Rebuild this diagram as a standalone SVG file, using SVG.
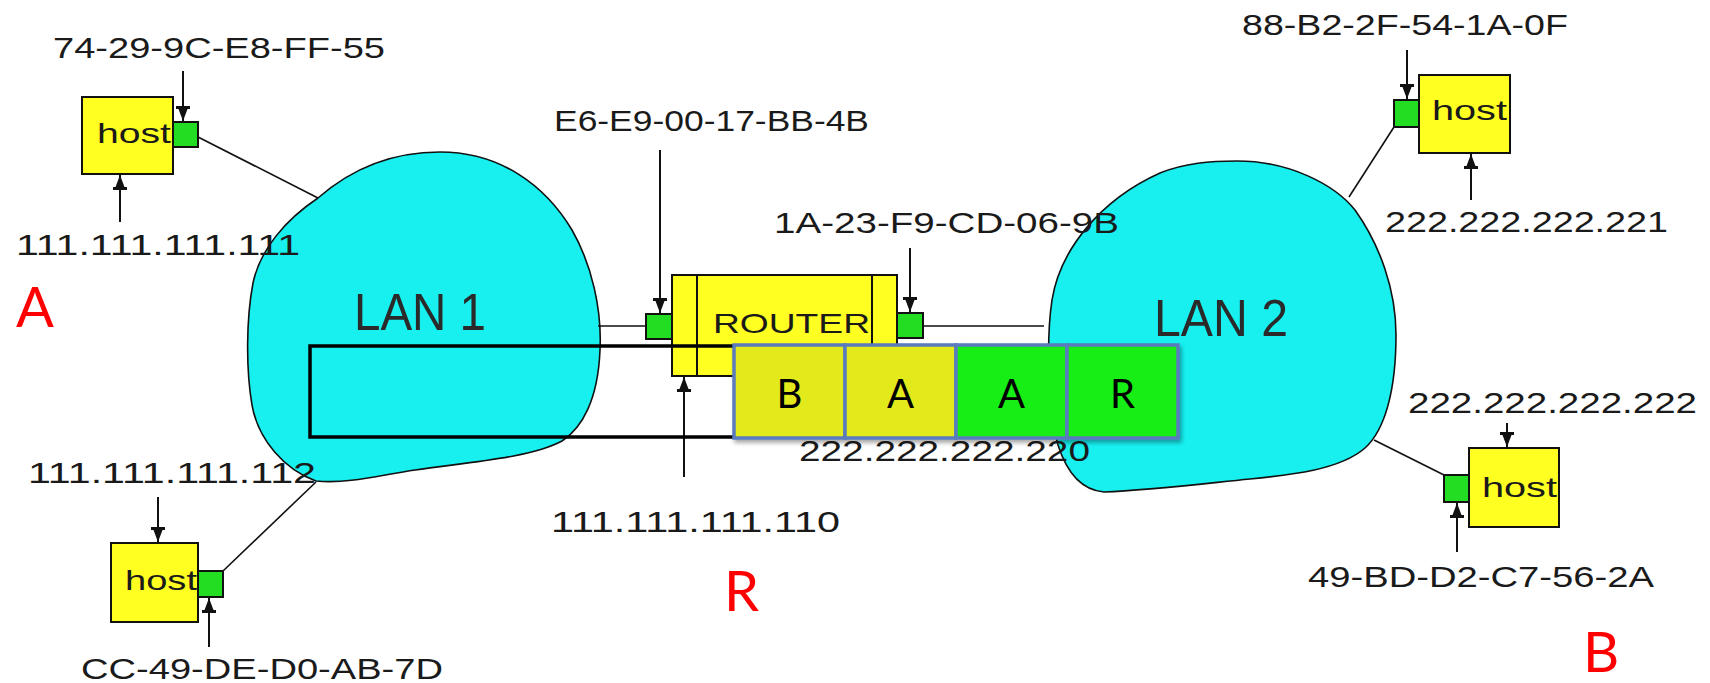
<svg xmlns="http://www.w3.org/2000/svg" width="1710" height="683" viewBox="0 0 1710 683">
<style>
.lbl{font-family:"Liberation Sans",Arial,sans-serif;font-size:30px;fill:#1a1a1a}
.hosttxt{font-family:"Liberation Sans",Arial,sans-serif;font-size:28px;fill:#1a1a1a}
.lan{font-family:"Liberation Sans",Arial,sans-serif;font-size:51px;fill:#2a2a2a}
.red{font-family:Lato,"Liberation Sans",sans-serif;font-size:56px;fill:#ff0000}
.ftxt{font-family:Lato,"Liberation Sans",sans-serif;font-size:40px;fill:#000}
.box{fill:#ffff22;stroke:#111;stroke-width:2}
.port{fill:#22dd22;stroke:#111;stroke-width:2}
.cloud{fill:#18f0f0;stroke:#111;stroke-width:1.6}
.link{stroke:#111;stroke-width:1.6;fill:none}
.arr{stroke:#111;stroke-width:2;fill:none;marker-end:url(#ah)}
.fy{fill:#e3ea1b;stroke:#5a7bbe;stroke-width:3.5}
.fg{fill:#14ee14;stroke:#5a7bbe;stroke-width:3.5}
</style>
<defs>
<marker id="ah" markerUnits="userSpaceOnUse" viewBox="0 0 16 14" markerWidth="16" markerHeight="14" refX="15" refY="7" orient="auto">
<path d="M0,0 H3 V2.5 L15,7 L3,11.5 V14 H0 Z" fill="#111"/>
</marker>
<filter id="sh" x="-10%" y="-10%" width="130%" height="130%">
<feDropShadow dx="2" dy="3" stdDeviation="2" flood-color="#000" flood-opacity="0.35"/>
</filter>
</defs>
<rect width="1710" height="683" fill="#fff"/>

<g id="lan1">
<path class="cloud" d="M 318,198 C 350,170 390,152 440,152 C 500,152 545,185 572,230 C 592,265 602,310 600,350 C 598,400 582,428 562,441 C 530,458 470,462 415,470 C 380,475 350,484 316,481 C 285,470 258,440 252,405 C 246,370 246,320 253,283 C 260,250 285,220 318,198 Z"/>
<text class="lan" x="354" y="330" textLength="132" lengthAdjust="spacingAndGlyphs">LAN 1</text>
</g>
<g id="lan2">
<path class="cloud" d="M 1237,161 C 1290,161 1335,185 1355,210 C 1380,245 1396,290 1396,335 C 1396,390 1385,430 1365,448 C 1340,470 1290,475 1250,479 C 1200,484 1150,490 1104,492 C 1080,490 1066,470 1058,445 C 1048,410 1046,340 1052,300 C 1060,250 1100,200 1160,173 C 1185,163 1210,161 1237,161 Z"/>
<text class="lan" x="1154" y="336" textLength="134" lengthAdjust="spacingAndGlyphs">LAN 2</text>
</g>

<g id="connectors">
<line class="link" x1="198" y1="137" x2="318" y2="198"/>
<line class="link" x1="223" y1="571" x2="316" y2="482"/>
<line class="link" x1="598" y1="326" x2="646" y2="326"/>
<line class="link" x1="923" y1="326" x2="1044" y2="326"/>
<line class="link" x1="1394" y1="127" x2="1349" y2="197"/>
<line class="link" x1="1444" y1="475" x2="1374" y2="440"/>
<line class="arr" x1="183" y1="71" x2="183" y2="121"/>
<line class="arr" x1="120" y1="222" x2="120" y2="175"/>
<line class="arr" x1="158" y1="497" x2="158" y2="542"/>
<line class="arr" x1="209" y1="647" x2="209" y2="598"/>
<line class="arr" x1="660" y1="150" x2="660" y2="313"/>
<line class="arr" x1="910" y1="248" x2="910" y2="312"/>
<line class="arr" x1="684" y1="477" x2="684" y2="377"/>
<line class="arr" x1="1407" y1="50" x2="1407" y2="99"/>
<line class="arr" x1="1471" y1="200" x2="1471" y2="154"/>
<line class="arr" x1="1507" y1="423" x2="1507" y2="447"/>
<line class="arr" x1="1457" y1="552" x2="1457" y2="503"/>
</g>

<g id="hostA">
<rect class="box" x="82" y="97" width="91" height="77"/>
<text class="hosttxt" x="97" y="143" textLength="74" lengthAdjust="spacingAndGlyphs">host</text>
<rect class="port" x="173" y="122" width="25" height="25"/>
<text class="lbl" x="53" y="58" textLength="332" lengthAdjust="spacingAndGlyphs">74-29-9C-E8-FF-55</text>
<text class="lbl" x="16" y="255" textLength="284" lengthAdjust="spacingAndGlyphs">111.111.111.111</text>
</g>

<g id="hostC">
<rect class="box" x="111" y="543" width="87" height="79"/>
<text class="hosttxt" x="125" y="590" textLength="72" lengthAdjust="spacingAndGlyphs">host</text>
<rect class="port" x="198" y="571" width="25" height="26"/>
<text class="lbl" x="28" y="483" textLength="288" lengthAdjust="spacingAndGlyphs">111.111.111.112</text>
<text class="lbl" x="81" y="679" textLength="362" lengthAdjust="spacingAndGlyphs">CC-49-DE-D0-AB-7D</text>
</g>

<g id="router">
<rect class="box" x="672" y="275" width="225" height="101"/>
<line x1="697" y1="275" x2="697" y2="376" stroke="#111" stroke-width="2"/>
<line x1="872" y1="275" x2="872" y2="376" stroke="#111" stroke-width="2"/>
<text class="hosttxt" x="713" y="333" textLength="157" lengthAdjust="spacingAndGlyphs">ROUTER</text>
<rect class="port" x="646" y="314" width="26" height="25"/>
<rect class="port" x="897" y="313" width="26" height="25"/>
<text class="lbl" x="554" y="131" textLength="315" lengthAdjust="spacingAndGlyphs">E6-E9-00-17-BB-4B</text>
<text class="lbl" x="774" y="233" textLength="345" lengthAdjust="spacingAndGlyphs">1A-23-F9-CD-06-9B</text>
<text class="lbl" x="551" y="532" textLength="289" lengthAdjust="spacingAndGlyphs">111.111.111.110</text>
<text class="lbl" x="799" y="461" textLength="291" lengthAdjust="spacingAndGlyphs">222.222.222.220</text>
</g>

<g id="hostTR">
<rect class="box" x="1419" y="75" width="91" height="78"/>
<text class="hosttxt" x="1432" y="120" textLength="75" lengthAdjust="spacingAndGlyphs">host</text>
<rect class="port" x="1394" y="100" width="25" height="27"/>
<text class="lbl" x="1242" y="35" textLength="326" lengthAdjust="spacingAndGlyphs">88-B2-2F-54-1A-0F</text>
<text class="lbl" x="1385" y="232" textLength="283" lengthAdjust="spacingAndGlyphs">222.222.222.221</text>
</g>

<g id="hostBR">
<rect class="box" x="1469" y="448" width="90" height="79"/>
<text class="hosttxt" x="1482" y="497" textLength="75" lengthAdjust="spacingAndGlyphs">host</text>
<rect class="port" x="1444" y="475" width="25" height="27"/>
<text class="lbl" x="1408" y="413" textLength="289" lengthAdjust="spacingAndGlyphs">222.222.222.222</text>
<text class="lbl" x="1308" y="587" textLength="346" lengthAdjust="spacingAndGlyphs">49-BD-D2-C7-56-2A</text>
</g>

<g id="frame">
<rect x="310" y="346" width="430" height="91" fill="none" stroke="#000" stroke-width="3.5"/>
<g filter="url(#sh)">
<rect class="fy" x="734" y="345" width="111" height="93"/>
<rect class="fy" x="845" y="345" width="111" height="93"/>
<rect class="fg" x="956" y="345" width="111" height="93"/>
<rect class="fg" x="1067" y="345" width="111" height="93"/>
</g>
<text class="ftxt" x="789.5" y="408" text-anchor="middle">B</text>
<text class="ftxt" x="900.5" y="408" text-anchor="middle">A</text>
<text class="ftxt" x="1011.5" y="408" text-anchor="middle">A</text>
<text class="ftxt" x="1122.5" y="408" text-anchor="middle">R</text>
</g>

<g id="labels">
<text class="red" x="16" y="327">A</text>
<text class="red" x="724" y="611">R</text>
<text class="red" x="1583" y="672">B</text>
</g>
</svg>
